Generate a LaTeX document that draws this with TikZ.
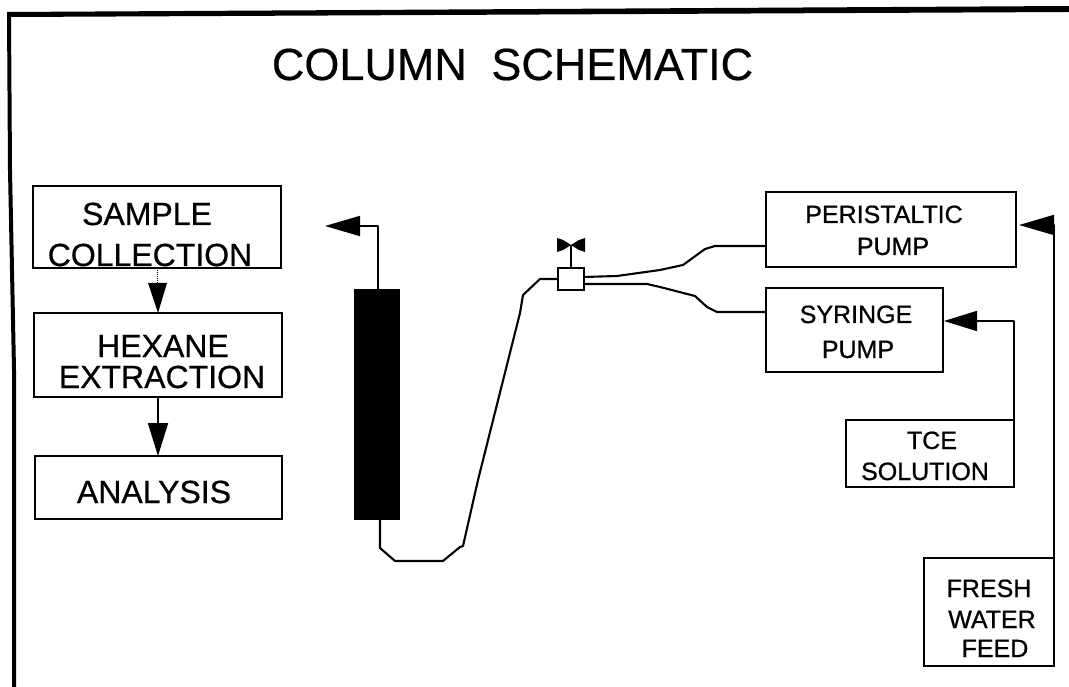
\documentclass[tikz,border=0pt]{standalone}
\usepackage{fontspec}
\setmainfont{Liberation Sans}[FakeBold=0.6]
\usetikzlibrary{calc,arrows.meta}
\tikzset{
  x=1pt,y=-1pt,
  box/.style={draw=black,line width=2pt,fill=white,inner sep=0pt,outer sep=0pt,anchor=north west},
  pipe/.style={draw=black,line width=2.1pt,line join=round},
  bigtip/.style={-{Triangle[length=#1,width=20pt]}},
  lab/.style={font=\fontsize{32}{36}\selectfont\addfontfeature{FakeBold=0.6},inner sep=0pt,anchor=base},
  labs/.style={font=\fontsize{25}{29}\selectfont\addfontfeature{FakeBold=0.8},inner sep=0pt,anchor=base},
}
\begin{document}
\begin{tikzpicture}
\useasboundingbox (0,0) rectangle (1069,687);
\fill[white] (0,0) rectangle (1069,687);
% frame
\fill[black] (7,12) -- (1069,6) -- (1069,12) -- (11,17) -- (12,170) -- (16,370) -- (16,687) -- (12,687) -- (12,370) -- (8,170) -- cycle;
\node[font=\fontsize{45}{50}\selectfont\addfontfeature{FakeBold=0.5},inner sep=0pt,anchor=base] (title) at (512.5,80) {COLUMN\hspace{12pt} SCHEMATIC};
% boxes
\node[box,minimum width=248pt,minimum height=82pt] (sample) at (33,186) {};
\node[box,minimum width=248pt,minimum height=84pt] (hexane) at (34,313) {};
\node[box,minimum width=247pt,minimum height=63pt] (analysis) at (35,456) {};
\node[box,minimum width=250pt,minimum height=75pt] (peri) at (766,192) {};
\node[box,minimum width=177pt,minimum height=84pt] (syringe) at (766,288) {};
\node[box,minimum width=168pt,minimum height=67pt] (tce) at (846,420) {};
\node[box,minimum width=130pt,minimum height=108pt] (fresh) at (924,558) {};
% column and valve
\node[box,fill=black,minimum width=45pt,minimum height=229pt,line width=0pt] (column) at (354,290) {};
\node[box,minimum width=26pt,minimum height=22pt] (valve) at (558,268) {};
\coordinate (handle) at (571,245);
\fill[black] (557,238) -- (563,240) -- (handle) -- (579,240) -- (585,238) -- (585,252) -- (579,250) -- (handle) -- (563,250) -- (557,252) -- cycle;
\draw[pipe,line width=1.3pt] (valve.north) -- (handle);
% labels
\node[lab] (t1) at (147,225) {SAMPLE};
\node[lab] (t2) at (150,266) {COLLECTION};
\node[lab] (t3) at (163,357) {HEXANE};
\node[lab] (t4) at (162,388) {EXTRACTION};
\node[lab] (t5) at (154,503) {ANALYSIS};
\node[labs] (t6) at (884,223) {PERISTALTIC};
\node[labs] (t7) at (893,255) {PUMP};
\node[labs] (t8) at (856,323) {SYRINGE};
\node[labs] (t9) at (858,358) {PUMP};
\node[labs] (t10) at (932,449) {TCE};
\node[labs] (t11) at (925,480) {SOLUTION};
\node[labs] (t12) at (989,597) {FRESH};
\node[labs] (t13) at (992,628) {WATER};
\node[labs] (t14) at (995,657) {FEED};
% free ends
\coordinate (outtip) at (325,226);
\coordinate (peritip) at (1019,225);
\coordinate (syrtip) at (944,321);
% arrows
\draw[pipe,line width=1pt,densely dotted] (sample.south) -- ++(0,16);
\fill[black] (148,283) -- (167,283) -- (158,313) -- cycle;
\draw[pipe,line width=1.7pt,bigtip=33pt] (hexane.south) -- (hexane.south |- analysis.north);
\draw[pipe,line width=1.7pt,bigtip=35pt] ($(column.north)+(1.5,0)$) |- (outtip);
\draw[pipe,line width=1.7pt,bigtip=35pt] (fresh.north east) |- (peritip);
\draw[pipe,line width=1.7pt,bigtip=33pt] (tce.north east) |- (syrtip);
% pipes
\draw[pipe] ($(column.south)+(3.5,0)$) -- (380,548) -- (395,561) -- (443,561) -- (460,547) -- (463,546) -- (478,480) -- (520,313) -- (523,295) -- (540,279) -- (valve.west |- 0,279);
\draw[pipe] (584,277) -- (617,276) -- (660,270) -- (683,265) -- (705,249) -- (715,246) -- (peri.west |- 0,246);
\draw[pipe] (584,284) -- (647,284) -- (660,287) -- (695,296) -- (707,307) -- (717,312) -- (syringe.west |- 0,312);
\end{tikzpicture}
\end{document}
